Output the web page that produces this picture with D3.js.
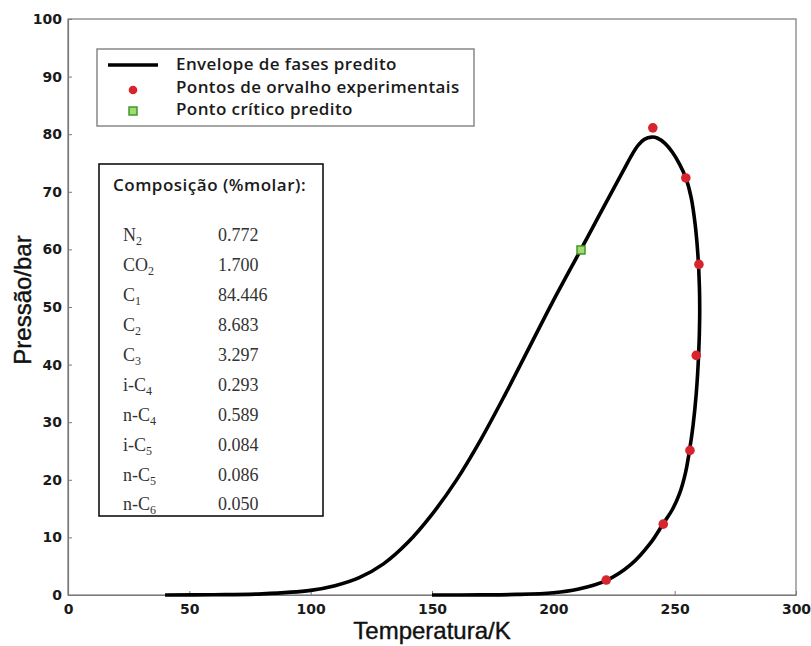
<!DOCTYPE html>
<html>
<head>
<meta charset="utf-8">
<script src="https://cdn.jsdelivr.net/npm/d3@7"></script>
<style>
  html, body { margin: 0; padding: 0; background: #fff; }
  svg { display: block; }
</style>
</head>
<body>
<svg id="chart" width="811" height="646"></svg>
<script>
// ---- Data ----
// Predicted phase envelope (T in K, P in bar), traced from bubble side round to dew side
const envT = [40, 60, 80, 100, 110, 120, 130, 140, 150, 160, 170, 180, 190, 200, 211.4, 218, 224, 229, 232.5, 235, 237.5, 240.5, 243, 246, 249, 252, 254.6, 256.8, 258.4, 259.5, 260.2, 260.3, 259.9, 258.9, 257.6, 256.3, 254.5, 252, 249, 245.3, 240, 232, 222, 210, 200, 185, 170, 150];
const envP = [0, 0.05, 0.2, 0.8, 1.6, 3.0, 5.4, 9.1, 14.0, 19.9, 26.9, 34.7, 42.9, 51.1, 60, 65.2, 69.9, 73.8, 76.5, 78.1, 79.1, 79.5, 79.3, 78.4, 76.9, 74.8, 72.4, 69.0, 64.5, 59.5, 53.5, 48, 42.0, 35.0, 29.5, 25.6, 21.3, 17.6, 14.8, 12.4, 9.0, 5.3, 2.55, 1.0, 0.4, 0.1, 0.02, 0];

// Experimental dew points
const dewT = [241.0, 254.6, 260.0, 258.9, 256.3, 245.3, 221.8];
const dewP = [81.1, 72.4, 57.4, 41.6, 25.1, 12.3, 2.6];

// Predicted critical point
const critT = [211.4];
const critP = [59.9];

// Axis ticks
const xTicks = [0, 50, 100, 150, 200, 250, 300];
const yTicks = [0, 10, 20, 30, 40, 50, 60, 70, 80, 90, 100];

// Legend labels
const legendLabels = ["Envelope de fases predito", "Pontos de orvalho experimentais", "Ponto crítico predito"];

// Composition table
const compTitle = "Composição (%molar):";
const compBase = ["N", "CO", "C", "C", "C", "i-C", "n-C", "i-C", "n-C", "n-C"];
const compSub = ["2", "2", "1", "2", "3", "4", "4", "5", "5", "6"];
const compValues = ["0.772", "1.700", "84.446", "8.683", "3.297", "0.293", "0.589", "0.084", "0.086", "0.050"];

// ---- Chart ----
const svg = d3.select("#chart");
const x = d3.scaleLinear().domain([0, 300]).range([68, 796]);
const y = d3.scaleLinear().domain([0, 100]).range([595, 19]);

const axisColor = "#7a7a7a";
const tickFont = "'DejaVu Sans', sans-serif";

// Plot frame
svg.append("rect")
  .attr("x", x(0)).attr("y", y(100))
  .attr("width", x(300) - x(0)).attr("height", y(0) - y(100))
  .attr("fill", "none").attr("stroke", axisColor).attr("stroke-width", 1.2);

// Axes
const xAxis = svg.append("g").attr("transform", `translate(0,${y(0)})`)
  .call(d3.axisBottom(x).tickValues(xTicks).tickFormat(d3.format("d")).tickSizeInner(-4).tickSizeOuter(0).tickPadding(9));
const yAxis = svg.append("g").attr("transform", `translate(${x(0)},0)`)
  .call(d3.axisLeft(y).tickValues(yTicks).tickFormat(d3.format("d")).tickSizeInner(-4).tickSizeOuter(0).tickPadding(6));

[xAxis, yAxis].forEach(g => {
  g.select(".domain").attr("stroke", axisColor).attr("stroke-width", 1.2);
  g.selectAll(".tick line").attr("stroke", axisColor);
  g.selectAll(".tick text")
    .attr("fill", "#1a1a1a")
    .style("font-family", tickFont)
    .style("font-weight", "bold")
    .style("font-size", "14px");
});

// Axis titles
const titleFont = "'Liberation Sans', Arial, sans-serif";
svg.append("text")
  .attr("x", (x(0) + x(300)) / 2).attr("y", 639)
  .attr("text-anchor", "middle")
  .style("font-family", titleFont)
  .style("font-size", "24px")
  .attr("fill", "#111").attr("stroke", "#111").attr("stroke-width", 0.4)
  .text("Temperatura/K");

svg.append("text")
  .attr("transform", `translate(31,300) rotate(-90)`)
  .attr("text-anchor", "middle")
  .style("font-family", titleFont)
  .style("font-size", "24px")
  .attr("fill", "#111").attr("stroke", "#111").attr("stroke-width", 0.4)
  .text("Pressão/bar");

// Envelope curve
const envData = envT.map((t, i) => [t, envP[i]]);
const line = d3.line().x(d => x(d[0])).y(d => y(d[1])).curve(d3.curveCatmullRom.alpha(0.5));
svg.append("path")
  .datum(envData)
  .attr("d", line)
  .attr("fill", "none")
  .attr("stroke", "#000")
  .attr("stroke-width", 3.6)
  .attr("stroke-linejoin", "round")
  .attr("stroke-linecap", "butt");

// Dew points
const red = "#d8242c";
svg.append("g").selectAll("circle")
  .data(dewT.map((t, i) => [t, dewP[i]]))
  .join("circle")
  .attr("cx", d => x(d[0])).attr("cy", d => y(d[1]))
  .attr("r", 4.8)
  .attr("fill", red);

// Critical point
const greenFill = "#a5d86f", greenStroke = "#3f9a2c";
svg.append("g").selectAll("rect")
  .data(critT.map((t, i) => [t, critP[i]]))
  .join("rect")
  .attr("x", d => x(d[0]) - 4).attr("y", d => y(d[1]) - 4)
  .attr("width", 8).attr("height", 8)
  .attr("fill", greenFill).attr("stroke", greenStroke).attr("stroke-width", 1.5);

// Legend
const labFont = "'Open Sans', sans-serif";
const lg = svg.append("g");
lg.append("rect")
  .attr("x", 97).attr("y", 49).attr("width", 377).attr("height", 77)
  .attr("fill", "#fff").attr("stroke", "#888").attr("stroke-width", 1.5);
lg.append("line")
  .attr("x1", 108).attr("x2", 158).attr("y1", 65).attr("y2", 65)
  .attr("stroke", "#000").attr("stroke-width", 3.6);
lg.append("circle").attr("cx", 133).attr("cy", 90).attr("r", 4.3).attr("fill", red);
lg.append("rect").attr("x", 129).attr("y", 107).attr("width", 8).attr("height", 8)
  .attr("fill", greenFill).attr("stroke", greenStroke).attr("stroke-width", 1.5);
const legendY = [64, 87, 109];
lg.selectAll("text.lab")
  .data(legendLabels)
  .join("text")
  .attr("class", "lab")
  .attr("x", 176).attr("y", (d, i) => legendY[i])
  .attr("dy", "0.35em")
  .style("font-family", labFont)
  .style("font-weight", "600")
  .style("font-size", "17px")
  .style("letter-spacing", "0.4px")
  .attr("fill", "#1a1a1a")
  .text(d => d);

// Composition box
const cb = svg.append("g");
cb.append("rect")
  .attr("x", 99).attr("y", 164).attr("width", 224).attr("height", 352)
  .attr("fill", "#fff").attr("stroke", "#111").attr("stroke-width", 1.6);
cb.append("text")
  .attr("x", 113).attr("y", 185).attr("dy", "0.35em")
  .style("font-family", labFont)
  .style("font-weight", "600")
  .style("font-size", "17px")
  .style("letter-spacing", "0.5px")
  .attr("fill", "#1a1a1a")
  .text(compTitle);

const rowY = i => 235 + i * 29.9;
const names = cb.selectAll("text.name")
  .data(compBase)
  .join("text")
  .attr("class", "name")
  .attr("x", 123).attr("y", (d, i) => rowY(i)).attr("dy", "0.35em")
  .style("font-family", "'Liberation Serif', 'Times New Roman', serif")
  .style("font-size", "18px")
  .attr("fill", "#333");
names.append("tspan").text(d => d);
names.append("tspan")
  .attr("dy", "4")
  .style("font-size", "12px")
  .text((d, i) => compSub[i]);

cb.selectAll("text.val")
  .data(compValues)
  .join("text")
  .attr("class", "val")
  .attr("x", 218).attr("y", (d, i) => rowY(i)).attr("dy", "0.35em")
  .style("font-family", "'Liberation Serif', 'Times New Roman', serif")
  .style("font-size", "18px")
  .attr("fill", "#333")
  .text(d => d);
</script>
</body>
</html>
